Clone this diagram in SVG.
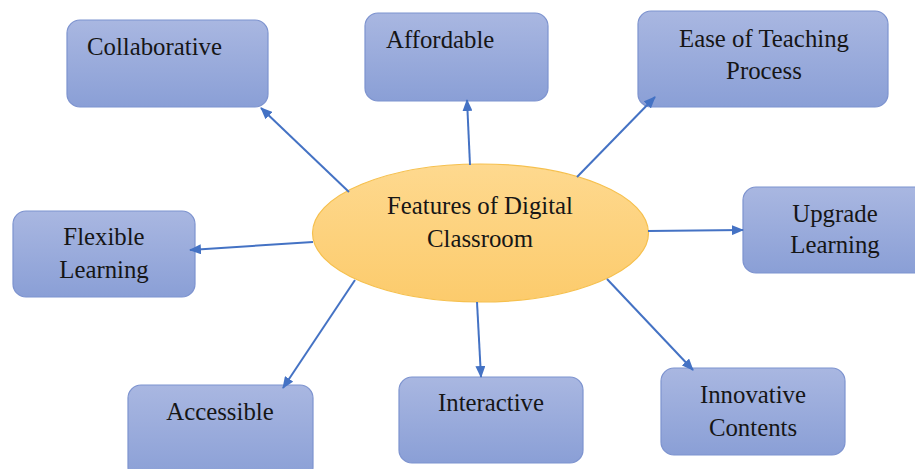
<svg xmlns="http://www.w3.org/2000/svg" width="915" height="469" viewBox="0 0 915 469">
<defs>
<linearGradient id="boxg" x1="0" y1="0" x2="0" y2="1">
<stop offset="0" stop-color="#a9b7e1"/>
<stop offset="1" stop-color="#8a9fd6"/>
</linearGradient>
<linearGradient id="ellg" x1="0" y1="0" x2="0" y2="1">
<stop offset="0" stop-color="#fed98f"/>
<stop offset="1" stop-color="#fccb6c"/>
</linearGradient>
<marker id="arr" markerUnits="userSpaceOnUse" markerWidth="12" markerHeight="10" refX="11" refY="5" orient="auto">
<path d="M0,0 L12,5 L0,10 Z" fill="#4472c4"/>
</marker>
<style>
.box{fill:url(#boxg);stroke:#7d93cf;stroke-width:1.2}
.lbl{font-family:"Liberation Serif","Times New Roman",serif;font-size:24.8px;fill:#161616}
.c{text-anchor:middle}
.con line{stroke:#4472c4;stroke-width:2;marker-end:url(#arr)}
</style>
</defs>
<rect width="915" height="469" fill="#ffffff"/>
<g id="center">
<ellipse cx="480.5" cy="233" rx="168" ry="69" fill="url(#ellg)" stroke="#f6c04e" stroke-width="1.2"/>
<text class="lbl c" x="480" y="214">Features of Digital</text>
<text class="lbl c" x="480" y="247">Classroom</text>
</g>
<g id="n-collaborative">
<rect class="box" x="67" y="20" width="201" height="87" rx="13"/>
<text class="lbl" x="87" y="55">Collaborative</text>
</g>
<g id="n-affordable">
<rect class="box" x="365" y="13" width="183" height="88" rx="13"/>
<text class="lbl" x="386" y="48">Affordable</text>
</g>
<g id="n-ease">
<rect class="box" x="638" y="11" width="250" height="96" rx="13"/>
<text class="lbl c" x="764" y="47">Ease of Teaching</text>
<text class="lbl c" x="764" y="79">Process</text>
</g>
<g id="n-upgrade">
<rect class="box" x="743" y="187" width="185" height="86" rx="13"/>
<text class="lbl c" x="835" y="222">Upgrade</text>
<text class="lbl c" x="835" y="253">Learning</text>
</g>
<g id="n-flexible">
<rect class="box" x="13" y="211" width="182" height="86" rx="13"/>
<text class="lbl c" x="104" y="245">Flexible</text>
<text class="lbl c" x="104" y="278">Learning</text>
</g>
<g id="n-accessible">
<rect class="box" x="128" y="385" width="185" height="95" rx="13"/>
<text class="lbl c" x="220" y="420">Accessible</text>
</g>
<g id="n-interactive">
<rect class="box" x="399" y="377" width="184" height="86" rx="13"/>
<text class="lbl c" x="491" y="411">Interactive</text>
</g>
<g id="n-innovative">
<rect class="box" x="661" y="368" width="184" height="87" rx="13"/>
<text class="lbl c" x="753" y="403">Innovative</text>
<text class="lbl c" x="753" y="436">Contents</text>
</g>
<g class="con" id="connectors">
<line x1="349" y1="192" x2="261" y2="108"/>
<line x1="470" y1="165" x2="467" y2="100"/>
<line x1="577" y1="177" x2="655" y2="97"/>
<line x1="648" y1="231" x2="743" y2="230"/>
<line x1="313" y1="242" x2="190" y2="250"/>
<line x1="477" y1="302" x2="481" y2="377"/>
<line x1="607" y1="279" x2="693" y2="370"/>
<line x1="355" y1="280" x2="283" y2="388"/>
</g>
</svg>
